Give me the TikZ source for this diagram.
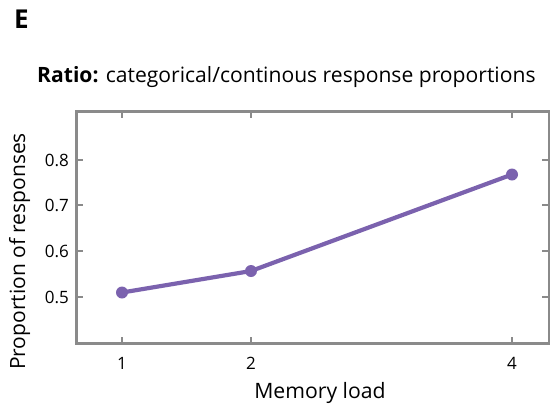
\documentclass[tikz,border=0pt]{standalone}
\usepackage{fontspec}
\setmainfont{Open Sans}
\definecolor{axgray}{HTML}{8A8A8A}
\definecolor{lnpurple}{HTML}{7B62AE}
\begin{document}
\begin{tikzpicture}[x=1pt,y=-1pt,
  axisline/.style={draw=axgray,line width=3pt},
  tickmark/.style={draw=axgray,line width=2.2pt},
  ticklabel/.style={font=\fontsize{17}{20}\selectfont,inner sep=0pt},
  dataline/.style={draw=lnpurple,line width=4.2pt},
  datadot/.style={circle,fill=lnpurple,inner sep=0pt,minimum size=12pt}]
\useasboundingbox (0,0) rectangle (550,405);
\node[font=\fontsize{26}{30}\selectfont\bfseries,anchor=base west,inner sep=0pt] (lab) at (14,28) {E};
\node[font=\fontsize{21.1}{25}\selectfont,anchor=base west,inner sep=0pt] (title) at (37,82) {\textbf{Ratio:} categorical/continous response proportions};
% box
\draw[axisline] (76,111.5) rectangle (549,343.5);
% ticks
\foreach \x/\n in {122/1,251/2,512/4}{
  \draw[tickmark] (\x,343.5) -- (\x,337);
  \draw[tickmark] (\x,111.5) -- (\x,118);
  \node[ticklabel,anchor=base] (xt\n) at (\x,369) {\n};
}
\foreach \y/\n in {297/0.5,251/0.6,205/0.7,160/0.8}{
  \draw[tickmark] (76,\y) -- (83,\y);
  \draw[tickmark] (549,\y) -- (542,\y);
  \node[ticklabel,anchor=east] (yt\n) at (69,\y) {\n};
}
\node[font=\fontsize{21.2}{25}\selectfont,anchor=base,inner sep=0pt] (xlab) at (320,398) {Memory load};
\node[font=\fontsize{21}{25}\selectfont,inner sep=0pt,rotate=90,anchor=base] (ylab) at (25,251.5) {Proportion of responses};
% data
\node[datadot] (p1) at (122,292.5) {};
\node[datadot] (p2) at (251,271) {};
\node[datadot] (p4) at (512,174.5) {};
\draw[dataline] (p1.center) -- (p2.center) -- (p4.center);
\end{tikzpicture}
\end{document}
